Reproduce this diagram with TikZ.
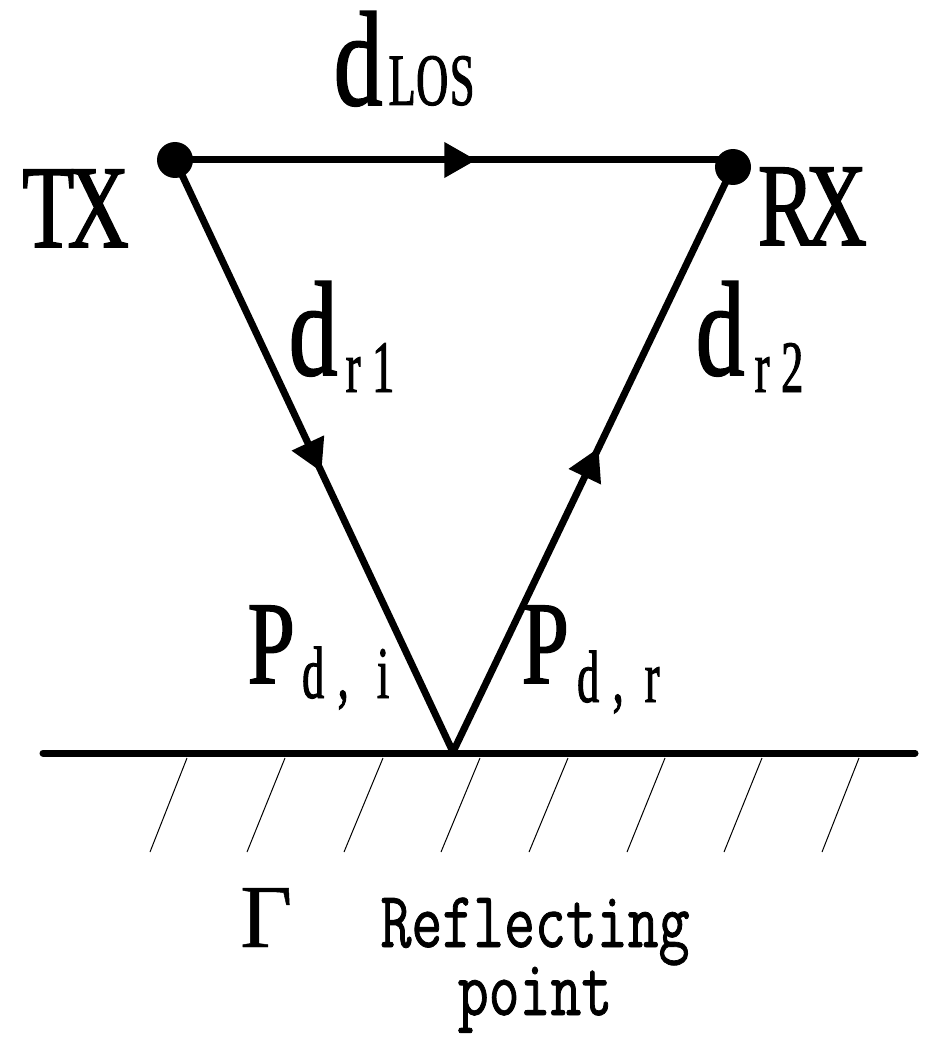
\documentclass[tikz,border=0pt]{standalone}
\usepackage{fontspec}
\usetikzlibrary{arrows.meta,decorations.markings}
\newfontfamily\labfont[FakeStretch=0.72,FakeBold=1.3]{Liberation Serif}
\newfontfamily\subfont[FakeStretch=0.6,FakeBold=1.3]{Liberation Serif}
\newfontfamily\greekfont[FakeBold=0.5]{Liberation Serif}
\newfontfamily\monofont[FakeStretch=0.75,FakeBold=1]{Latin Modern Mono}
\newcommand\hwm[1]{\makebox[50pt]{#1}}
\newcommand\hws[1]{\makebox[30pt]{#1}}
\newcommand\bigd{{\fontsize{135}{135}\selectfont d}}
\tikzset{
  wire/.style={line width=7pt},
  midarrow/.style={postaction={decorate},decoration={markings,
      mark=at position #1 with {\arrow{Triangle[length=32pt,width=34pt]}}}},
  dot/.style={circle,fill,inner sep=0pt,minimum size=36pt},
  mainlab/.style={inner sep=0pt,anchor=base west,font=\labfont\fontsize{118}{118}\selectfont},
  sublab/.style={inner sep=0pt,anchor=base west,font=\subfont\fontsize{74}{74}\selectfont},
  hatch/.style={line width=1pt}
}
\begin{document}
\begin{tikzpicture}[x=1pt,y=-1pt]
\useasboundingbox (0,0) rectangle (934,1043);
% points
\node[dot] (TX) at (175,160) {};
\node[dot] (RX) at (733,167) {};
\coordinate (R) at (453,752);
\coordinate (G1) at (43,753);
\coordinate (G2) at (915,753);
% connectors
\draw[wire,midarrow=0.54] (TX.center) -- (TX.center -| RX.center);
\draw[wire,midarrow=0.527] (TX.center) -- (R);
\draw[wire,midarrow=0.52] (R) -- (RX.center);
\draw[wire,line cap=round] (G1) -- (G2);
% hatching
\foreach \t/\b in {187/150,285/247,383/344,480/441,568/529,665/627,762/724,859/822}
  \draw[hatch] (\t,758) -- (\b,852);
% labels
\node[mainlab] (txl) at (23,247) {\hwm{T}\hwm{X}};
\node[mainlab] (rxl) at (761,245) {\hwm{R}\hwm{X}};
\node[mainlab] (dlos) at (333,105) {\hwm{\bigd}};
\node[sublab] (dlossub) at (387,105) {\hws{L}\hws{O}\hws{S}};
\node[mainlab] (dr1) at (288,375) {\hwm{\bigd}};
\node[sublab] (dr1sub) at (338,392) {\hws{r}\hws{1}};
\node[mainlab] (dr2) at (695,375) {\hwm{\bigd}};
\node[sublab] (dr2sub) at (747,392) {\hws{r}\hws{2}};
\node[mainlab] (pdi) at (246,683) {\hwm{P}};
\node[sublab] (pdisub) at (298,698) {\hws{d}\hws{,}\hspace{10pt}\hws{i}};
\node[mainlab] (pdr) at (520,683) {\hwm{P}};
\node[sublab] (pdrsub) at (573,702) {\hws{d}\hws{,}\hspace{4pt}\hws{r}};
\node[inner sep=0pt,anchor=base west,font=\greekfont\fontsize{90}{90}\selectfont] (gamma) at (240,947) {Γ};
\node[inner sep=0pt,anchor=base,align=center,font=\monofont\fontsize{80}{68}\selectfont] (refl) at (535,1015) {Reflecting\\point};
\end{tikzpicture}
\end{document}
